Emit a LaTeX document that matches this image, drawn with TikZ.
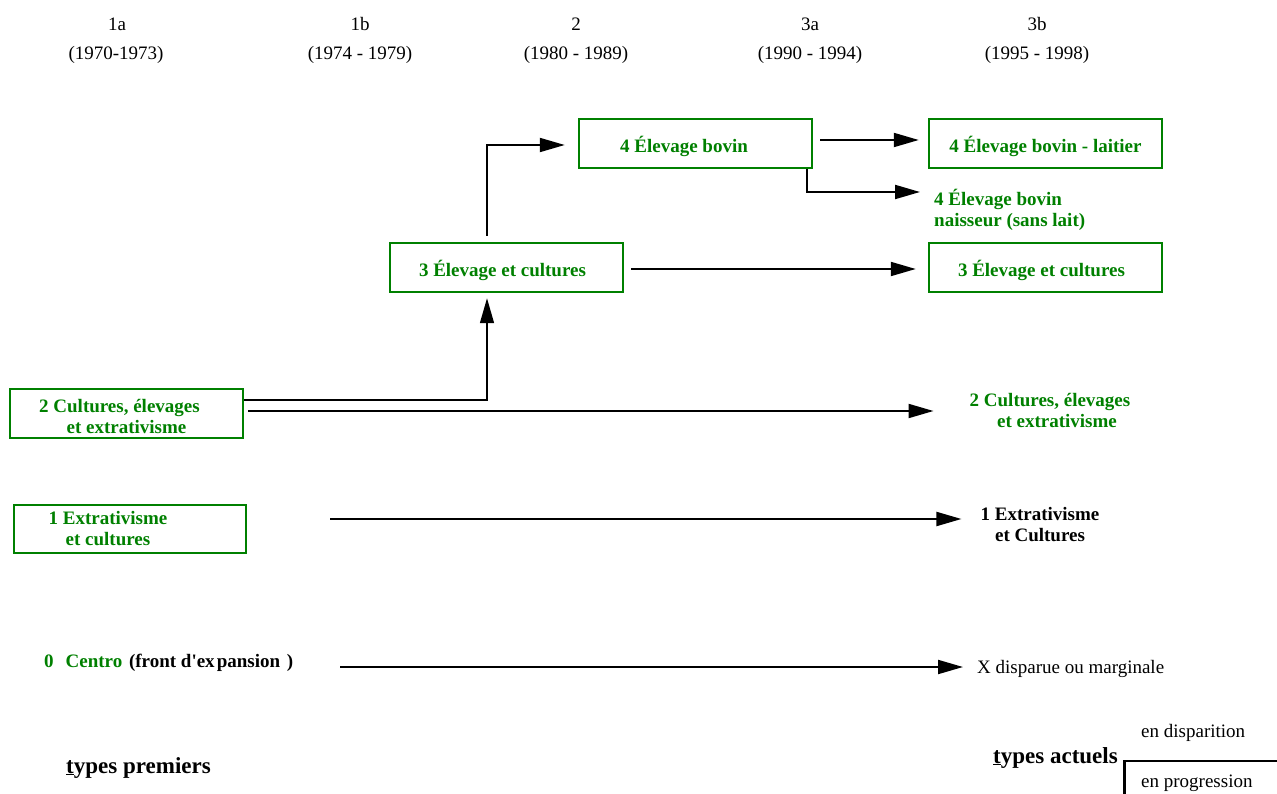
\documentclass[tikz,border=0pt]{standalone}
\usepackage{fontspec}
\setmainfont{Liberation Serif}
\usetikzlibrary{arrows.meta}
\definecolor{vert}{RGB}{0,128,0}
\tikzset{
  box/.style={draw=vert, line width=2.5pt, minimum width=233pt, minimum height=49pt, inner sep=0pt,
    text=vert, font=\fontsize{19}{21}\selectfont\bfseries, align=center},
  low/.style={text height=20pt, text depth=1pt},
  lab/.style={inner sep=0pt, font=\fontsize{19}{21}\selectfont\bfseries, align=center},
  glab/.style={lab, text=vert},
  hdr/.style={inner sep=0pt, font=\fontsize{19}{21}\selectfont},
  big/.style={inner sep=0pt, font=\fontsize{23}{26}\selectfont\bfseries},
  arr/.style={line width=2pt, -{Triangle[length=25pt,width=14pt]}},
}
\begin{document}
\begin{tikzpicture}[x=1pt,y=-1pt]
\useasboundingbox (0,0) rectangle (1277,794);
% headers
\node[hdr] (h1a) at (117,24) {1a};
\node[hdr] (d1a) at (116,55) {(1970-1973)};
\node[hdr] (h1b) at (360,24) {1b};
\node[hdr] (d1b) at (360,55) {(1974 - 1979)};
\node[hdr] (h2) at (576,24) {2};
\node[hdr] (d2) at (576,55) {(1980 - 1989)};
\node[hdr] (h3a) at (810,24) {3a};
\node[hdr] (d3a) at (810,55) {(1990 - 1994)};
\node[hdr] (h3b) at (1037,24) {3b};
\node[hdr] (d3b) at (1037,55) {(1995 - 1998)};
% boxes
\node[box] (bov) at (695.5,143.5) {};
\node[glab] (tbov) at (684,146) {4 Élevage bovin};
\node[box, low] (lai) at (1045.5,143.5) {4 Élevage bovin - laitier};
\node[glab, anchor=west, align=left] (nais) at (934,210) {4 Élevage bovin\\naisseur (sans lait)};
\node[box, low] (c3L) at (506.5,267.5) {\hspace*{-8pt}3 Élevage et cultures};
\node[box, low] (c3R) at (1045.5,267.5) {\hspace*{-8pt}3 Élevage et cultures};
\node[box] (c2) at (126.5,413.5) {};
\node[glab] (t2) at (126.5,416.5) {2 Cultures, élevages\hspace*{14pt}\\et extrativisme};
\node[glab] (r2) at (1050,410.5) {2 Cultures, élevages\\\hspace*{14pt}et extrativisme};
\node[box, minimum width=232pt, minimum height=48pt] (c1) at (130,529) {};
\node[glab] (t1) at (108,529) {1 Extrativisme\\et cultures};
\node[lab] (r1) at (1040,524.5) {1 Extrativisme\\et Cultures};
\node[lab, anchor=base west] (c0) at (44,667) {\textcolor{vert}{0\hspace{12pt}Centro}\hspace{2pt} (front d\textquotesingle ex\hspace{2pt}pansion\hspace{2pt} )};
\node[hdr, anchor=base west] (xd) at (977,673) {X disparue ou marginale};
\node[big, anchor=base west] (tp) at (66,773) {\underline{t}ypes premiers};
\node[big, anchor=base west] (ta) at (993,763) {\underline{t}ypes actuels};
\node[hdr, anchor=base west] (edis) at (1141,737) {en disparition};
\node[hdr, anchor=base west] (eprog) at (1141,787) {en progression};
% free ends
\coordinate (naisin) at (920,192);
\coordinate (s1) at (330,519);
\coordinate (s0) at (340,667);
\coordinate (leg) at (1124.5,761);
% connectors
\draw[arr, shorten <=7pt, shorten >=9pt] (bov.east |- 0,140) -- (lai.west |- 0,140);
\draw[arr] (bov.south east -| 807,0) |- (naisin);
\draw[arr, shorten <=6pt, shorten >=13pt] (c3L.north -| 487,0) |- (bov.west |- 0,145);
\draw[arr, shorten <=7pt, shorten >=12pt] (c3L.east |- 0,269) -- (c3R.west |- 0,269);
\draw[line width=1.5pt, -{Triangle[length=25pt,width=14pt]}, shorten >=5pt] (c2.east |- 0,400) -| (c3L.south -| 487,0);
\draw[arr, shorten <=4pt, shorten >=36pt] (c2.east |- 0,411) -- (r2.west |- 0,411);
\draw[arr, shorten >=19pt] (s1) -- (r1.west |- s1);
\draw[arr, shorten >=14pt] (s0) -- (xd.west |- s0);
% legend
\draw[line width=2.5pt] (1277,761) -- (leg) -- (1124.5,794);
\end{tikzpicture}
\end{document}
